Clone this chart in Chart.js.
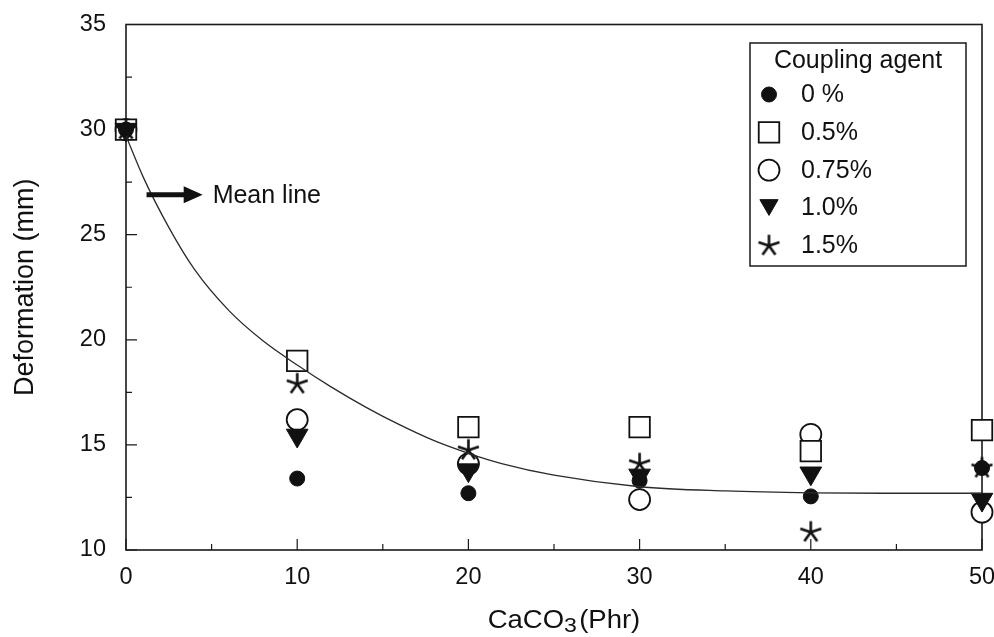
<!DOCTYPE html>
<html>
<head>
<meta charset="utf-8">
<title>Deformation vs CaCO3</title>
<script src="https://cdn.jsdelivr.net/npm/chart.js@4.4.0/dist/chart.umd.min.js"></script>
<style>
  html, body { margin: 0; padding: 0; background: #fff; overflow: hidden; }
  #wrap { width: 994px; height: 637px; overflow: hidden; }
  #chart { display: block; }
</style>
</head>
<body>
<div id="wrap"><canvas id="chart" width="994" height="637"></canvas></div>
<script>
// CaCO3 loading (phr)
const caco3 = [0, 10, 20, 30, 40, 50];

// deformation (mm) per coupling agent level
const agent0 = [30, 13.4, 12.7, 13.3, 12.55, 13.9];
const agent05 = [30, 19.0, 15.85, 15.85, 14.7, 15.7];
const agent075 = [30, 16.2, 14.1, 12.4, 15.5, 11.8];
const agent10 = [30, 15.45, 13.8, 13.55, 13.65, 12.4];
const agent15 = [30, 17.9, 14.75, 14.1, 10.85, 13.9];

// mean line
const meanX = [0, 1, 2.5, 4, 6, 8, 10, 12, 14, 16, 18, 20, 22, 25, 30, 35, 40, 45, 50];
const meanY = [29.7, 27.75, 25.35, 23.35, 21.4, 19.95, 18.8, 17.75, 16.8, 15.95, 15.2, 14.6, 14.1, 13.56, 13.01, 12.81, 12.72, 12.7, 12.7];

const seriesLabels = ['0 %', '0.5%', '0.75%', '1.0%', '1.5%'];
const legendTitle = 'Coupling agent';
const xTicks = [0, 10, 20, 30, 40, 50];
const yTicks = [10, 15, 20, 25, 30, 35];

const INK = '#111';
const FONT = '"Liberation Sans", Arial, Helvetica, sans-serif';

// five-spoke asterisk marker
function makeStar(r, lw) {
    const s = Math.ceil(2 * r + lw + 2) | 1;
    const c = document.createElement('canvas');
    c.width = c.height = s;
    const g = c.getContext('2d');
    g.strokeStyle = INK;
    g.lineWidth = lw;
    g.beginPath();
    for (let k = 0; k < 5; k++) {
        const a = -Math.PI / 2 + k * 2 * Math.PI / 5;
        g.moveTo(s / 2, s / 2);
        g.lineTo(s / 2 + r * Math.cos(a), s / 2 + r * Math.sin(a));
    }
    g.stroke();
    return c;
}

const markers = [
    { style: 'circle', radius: 7.5, rotation: 0, fill: INK, width: 1, order: 3 },
    { style: 'rect', radius: 14.5, rotation: 0, fill: '#fff', width: 1.8, order: 4 },
    { style: 'circle', radius: 10.5, rotation: 0, fill: '#fff', width: 1.8, order: 5 },
    { style: 'triangle', radius: 12.5, rotation: 180, fill: INK, width: 1, order: 2 },
    { style: makeStar(11, 2.6), radius: 11, rotation: 0, fill: INK, width: 0, order: 1 }
];

const seriesValues = [agent0, agent05, agent075, agent10, agent15];

const pointSets = seriesValues.map((vals, i) => {
    const m = markers[i];
    return {
        type: 'scatter',
        label: seriesLabels[i],
        data: caco3.map((x, j) => ({ x, y: vals[j] })),
        pointStyle: m.style,
        pointRadius: m.radius,
        pointHoverRadius: m.radius,
        pointRotation: m.rotation,
        pointBackgroundColor: m.fill,
        pointBorderColor: INK,
        pointBorderWidth: m.width,
        order: m.order,
        clip: false
    };
});

const meanSet = {
    type: 'line',
    label: 'Mean line',
    data: meanX.map((x, i) => ({ x, y: meanY[i] })),
    borderColor: '#2b2b2b',
    borderWidth: 1.3,
    pointRadius: 0,
    cubicInterpolationMode: 'monotone',
    order: 0
};

// plot frame plus inward tick marks
const frameTicks = {
    id: 'frameTicks',
    beforeDatasetsDraw(chart) {
        const { ctx, chartArea: a, scales: { x, y } } = chart;
        ctx.save();
        ctx.strokeStyle = '#1a1a1a';
        ctx.lineWidth = 1.2;
        ctx.beginPath();
        x.ticks.forEach(t => {
            const px = x.getPixelForValue(t.value);
            const len = xTicks.includes(t.value) ? 11 : 6;
            ctx.moveTo(px, a.bottom);
            ctx.lineTo(px, a.bottom - len);
        });
        y.ticks.forEach(t => {
            const py = y.getPixelForValue(t.value);
            const len = yTicks.includes(t.value) ? 11 : 6;
            ctx.moveTo(a.left, py);
            ctx.lineTo(a.left + len, py);
        });
        ctx.stroke();
        ctx.lineWidth = 1.6;
        ctx.strokeRect(a.left, a.top, a.right - a.left, a.bottom - a.top);
        ctx.restore();
    }
};

// "Mean line" arrow note and the x axis title with its subscript
const notes = {
    id: 'notes',
    afterDraw(chart) {
        const { ctx, chartArea: a, scales: { x, y } } = chart;
        ctx.save();
        ctx.fillStyle = INK;
        ctx.strokeStyle = INK;

        const ay = y.getPixelForValue(26.9);
        const x0 = x.getPixelForValue(1.2);
        const x1 = x.getPixelForValue(4.48);
        ctx.lineWidth = 5;
        ctx.beginPath();
        ctx.moveTo(x0, ay);
        ctx.lineTo(x1 - 14, ay);
        ctx.stroke();
        ctx.beginPath();
        ctx.moveTo(x1, ay);
        ctx.lineTo(x1 - 19, ay - 8.5);
        ctx.lineTo(x1 - 19, ay + 8.5);
        ctx.closePath();
        ctx.fill();
        ctx.font = '25px ' + FONT;
        ctx.textBaseline = 'alphabetic';
        ctx.fillText('Mean line', x.getPixelForValue(5.06), ay + 8.5);

        // CaCO3(Phr)
        const big = '25px ' + FONT, small = '21px ' + FONT;
        ctx.font = big;
        const w1 = ctx.measureText('CaCO').width;
        const w3 = ctx.measureText('(Phr)').width;
        ctx.font = small;
        const w2 = ctx.measureText('3').width;
        const sx = 1.1;
        const total = (w1 + w2 + w3 + 2) * sx;
        const cx = (a.left + a.right) / 2 + 10;
        ctx.translate(cx - total / 2, 628);
        ctx.scale(sx, 1);
        ctx.font = big;
        ctx.fillText('CaCO', 0, 0);
        ctx.font = small;
        ctx.fillText('3', w1, 4);
        ctx.font = big;
        ctx.fillText('(Phr)', w1 + w2 + 2, 0);
        ctx.restore();
    }
};

// boxed legend in the upper right of the plot
const legendBox = {
    id: 'legendBox',
    afterDraw(chart) {
        const ctx = chart.ctx;
        ctx.save();
        ctx.strokeStyle = '#1a1a1a';
        ctx.lineWidth = 1.5;
        ctx.strokeRect(750, 43, 216, 223);
        ctx.fillStyle = INK;
        ctx.font = '25px ' + FONT;
        ctx.textAlign = 'center';
        ctx.textBaseline = 'alphabetic';
        ctx.fillText(legendTitle, 858, 68);
        ctx.textAlign = 'left';
        seriesLabels.forEach((label, i) => {
            const m = markers[i];
            const cy = 94.5 + i * 37.8;
            ctx.fillStyle = m.fill;
            ctx.strokeStyle = INK;
            ctx.lineWidth = m.width;
            const r = m.style === 'triangle' ? 10.5 : m.radius;
            const my = m.style === 'triangle' ? cy - 3 : cy;
            Chart.helpers.drawPoint(ctx, {
                pointStyle: m.style,
                radius: r,
                rotation: m.rotation,
                borderWidth: m.width
            }, 769, my);
            ctx.fillStyle = INK;
            ctx.fillText(label, 801, cy + 7.5);
        });
        ctx.restore();
    }
};

const tickFont = { family: FONT, size: 23.5 };

new Chart(document.getElementById('chart'), {
    type: 'scatter',
    data: { datasets: [...pointSets, meanSet] },
    options: {
        responsive: false,
        animation: false,
        events: [],
        layout: { autoPadding: false, padding: { top: 24.5, right: 12, left: 0, bottom: 0 } },
        plugins: {
            legend: { display: false },
            tooltip: { enabled: false }
        },
        scales: {
            x: {
                type: 'linear',
                min: 0,
                max: 50,
                afterFit(s) {
                    s.height = 87;
                    s.paddingLeft = 0;
                    s.paddingRight = 0;
                },
                grid: { display: false, drawTicks: false },
                border: { display: false },
                ticks: {
                    stepSize: 5,
                    autoSkip: false,
                    maxRotation: 0,
                    padding: 13,
                    color: INK,
                    font: tickFont,
                    callback: v => xTicks.includes(v) ? String(v) : ''
                }
            },
            y: {
                type: 'linear',
                min: 10,
                max: 35,
                afterFit(s) {
                    s.width = 126;
                    s.paddingTop = 0;
                    s.paddingBottom = 0;
                },
                grid: { display: false, drawTicks: false },
                border: { display: false },
                ticks: {
                    stepSize: 2.5,
                    autoSkip: false,
                    padding: 20,
                    color: INK,
                    font: tickFont,
                    callback: v => yTicks.includes(v) ? String(v) : ''
                },
                title: {
                    display: true,
                    text: 'Deformation (mm)',
                    color: INK,
                    font: { family: FONT, size: 27 },
                    padding: { top: 9, bottom: 0 }
                }
            }
        }
    },
    plugins: [frameTicks, notes, legendBox]
});
</script>
</body>
</html>
